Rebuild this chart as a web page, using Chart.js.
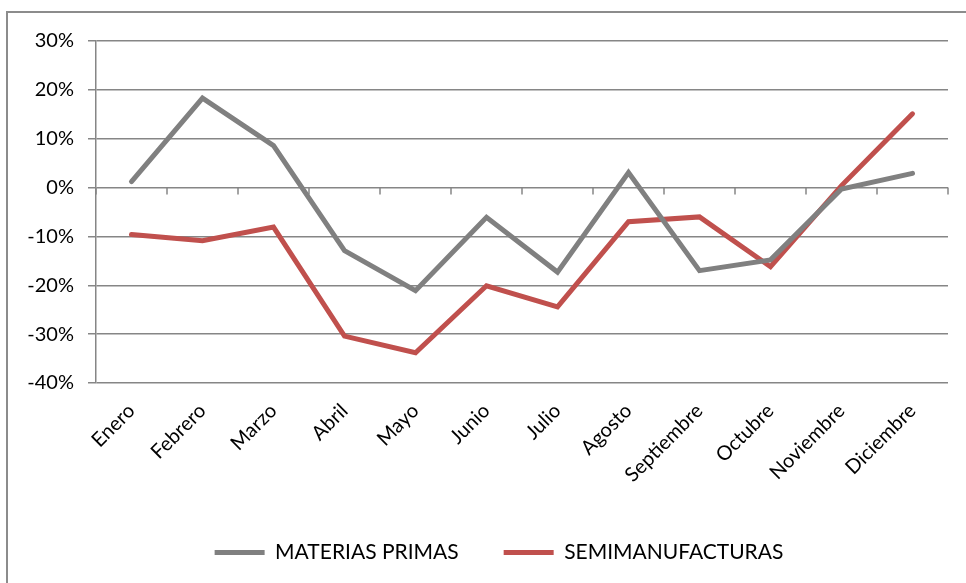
<!DOCTYPE html>
<html>
<head>
<meta charset="utf-8">
<script src="https://cdn.jsdelivr.net/npm/chart.js@4"></script>
<style>
  html, body { margin: 0; padding: 0; background: #fff; overflow: hidden; }
  #wrap { position: absolute; left: 0; top: 0; width: 966px; height: 583px; }
</style>
</head>
<body>
<div id="wrap"><canvas id="chart"></canvas></div>
<script>
// Monthly variation (%)
const months = ['Enero', 'Febrero', 'Marzo', 'Abril', 'Mayo', 'Junio', 'Julio', 'Agosto', 'Septiembre', 'Octubre', 'Noviembre', 'Diciembre'];
const materiasPrimas = [1.2, 18.3, 8.6, -12.9, -21.1, -6.1, -17.3, 3.1, -17.0, -14.8, -0.3, 2.9];
const semimanufacturas = [-9.6, -10.9, -8.1, -30.4, -33.8, -20.1, -24.4, -7.0, -6.0, -16.2, 0.4, 15.1];
const yTicks = [30, 20, 10, 0, -10, -20, -30, -40];

const gridColor = '#868686';
const font = { family: 'Lato', size: 20 };

// outer chart frame (only top and left edges fall inside the window)
const frame = {
    id: 'frame',
    beforeDraw(chart) {
        const ctx = chart.ctx;
        ctx.save();
        ctx.strokeStyle = '#8c8c8c';
        ctx.lineWidth = 2;
        ctx.strokeRect(7, 12, chart.width + 20, chart.height + 20);
        ctx.restore();
    }
};

// the Excel legend sits a bit right of the plot's centre
const legendShift = {
    id: 'legendShift',
    afterLayout(chart) {
        chart.legend.left += 25;
        chart.legend.right += 25;
    }
};

// small tick marks on the zero line, between categories (like the Excel axis)
const zeroTicks = {
    id: 'zeroTicks',
    beforeDatasetsDraw(chart) {
        const { ctx, scales: { x, y } } = chart;
        const y0 = y.getPixelForValue(0);
        const step = x.width / months.length;
        ctx.save();
        ctx.strokeStyle = gridColor;
        ctx.lineWidth = 1.5;
        ctx.beginPath();
        for (let i = 0; i <= months.length; i++) {
            const px = x.left + i * step;
            ctx.moveTo(px, y0);
            ctx.lineTo(px, y0 + 7);
        }
        ctx.stroke();
        ctx.restore();
    }
};

const ctx = document.getElementById('chart').getContext('2d');
new Chart(ctx, {
    type: 'line',
    data: {
        labels: months,
        datasets: [{
            label: 'MATERIAS PRIMAS',
            data: materiasPrimas,
            borderColor: '#808080',
            backgroundColor: '#808080',
            borderWidth: 5,
            borderCapStyle: 'round',
            pointRadius: 0,
            tension: 0
        }, {
            label: 'SEMIMANUFACTURAS',
            data: semimanufacturas,
            borderColor: '#C0504D',
            backgroundColor: '#C0504D',
            borderWidth: 5,
            borderCapStyle: 'round',
            pointRadius: 0,
            tension: 0
        }]
    },
    options: {
        responsive: true,
        maintainAspectRatio: false,
        animation: false,
        layout: { padding: { top: 41, right: 18, left: 0, bottom: 10 } },
        plugins: {
            title: { display: false },
            tooltip: { enabled: false },
            legend: {
                position: 'bottom',
                labels: {
                    font: { family: 'Lato', size: 21 },
                    color: '#000',
                    boxWidth: 50,
                    boxHeight: 5,
                    padding: 45,
                    generateLabels(chart) {
                        return chart.data.datasets.map((ds, i) => ({
                            text: ds.label,
                            fillStyle: ds.borderColor,
                            strokeStyle: ds.borderColor,
                            lineWidth: 0,
                            datasetIndex: i,
                            fontColor: '#000'
                        }));
                    }
                }
            }
        },
        scales: {
            x: {
                offset: true,
                grid: { display: false },
                border: { display: false },
                afterFit(scale) { scale.height = 114; },
                ticks: {
                    font: font,
                    color: '#000',
                    minRotation: 45,
                    maxRotation: 45,
                    padding: 8,
                    autoSkip: false
                }
            },
            y: {
                min: -40,
                max: 30,
                afterFit(scale) { scale.width = 96; },
                afterBuildTicks(scale) { scale.ticks = yTicks.map(v => ({ value: v })); },
                grid: { color: gridColor, lineWidth: 1.5, tickLength: 8 },
                border: { display: true, color: gridColor, width: 1.5 },
                ticks: {
                    font: font,
                    color: '#000',
                    padding: 14,
                    callback: v => v + '%'
                }
            }
        }
    },
    plugins: [frame, legendShift, zeroTicks]
});
</script>
</body>
</html>
